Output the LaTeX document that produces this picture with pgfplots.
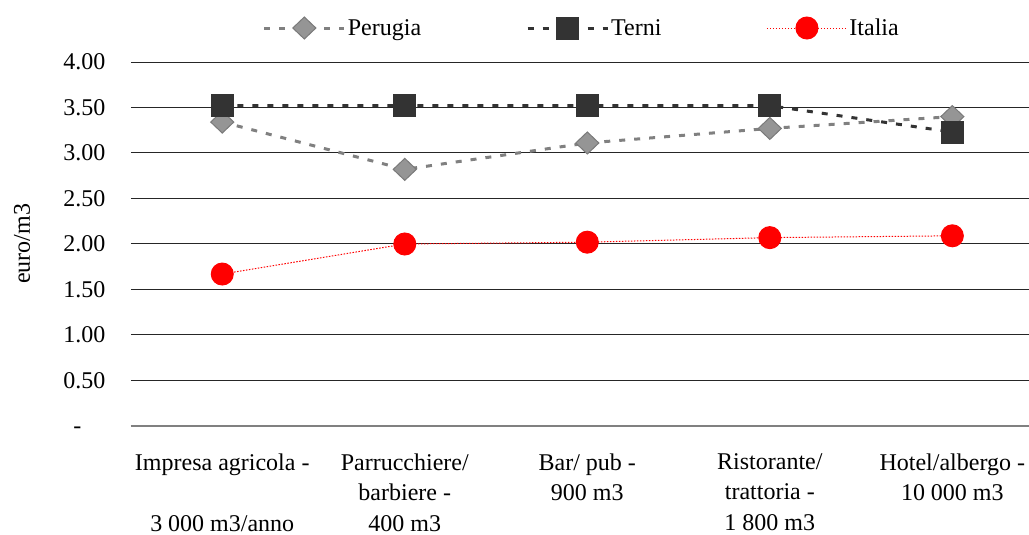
\documentclass[border=0pt]{standalone}
\usepackage{fontspec}
\setmainfont{Liberation Serif}
\newfontfamily\tnr{Liberation Serif}
\usepackage{pgfplots}
\pgfplotsset{compat=1.18}
\definecolor{pgray}{HTML}{959595}
\definecolor{pline}{HTML}{808080}
\definecolor{pedge}{HTML}{7A7A7A}
\definecolor{tdark}{HTML}{333333}
\begin{document}
\begin{tikzpicture}
\newcommand{\fs}{\tnr\fontsize{24}{30.5}\selectfont}
\begin{axis}[
  scale only axis,
  width=898pt, height=364pt,
  xmin=-0.5, xmax=4.42,
  ymin=0, ymax=4,
  ytick={0,0.5,1,1.5,2,2.5,3,3.5,4},
  yticklabels={-\phantom{00},0.50,1.00,1.50,2.00,2.50,3.00,3.50,4.00},
  ymajorgrids,
  grid style={black!85, line width=1pt},
  ytick style={draw=none},
  yticklabel style={font=\fs, xshift=-22pt},
  xtick={0,1,2,3,4},
  xticklabels={{Impresa agricola -\\\strut\\3 000 m3/anno},{Parrucchiere/\\barbiere -\\400 m3},{Bar/ pub -\\900 m3},{Ristorante/\\trattoria -\\1 800 m3},{Hotel/albergo -\\10 000 m3}},
  xticklabel style={font=\fs, align=center, yshift=-24pt},
  xtick style={draw=none},
  extra x ticks={-0.5,0.5,1.5,2.5,3.5},
  extra x tick labels={},
  extra x tick style={major tick length=7pt, tick align=outside, tick style={draw=pline, line width=1pt}},
  axis x line*=bottom,
  axis y line*=left,
  y axis line style={draw=none},
  x axis line style={draw=pline, line width=1.8pt},
  ylabel={euro/m3},
  every axis y label/.style={at={(axis description cs:-0.1214,0.5)}, rotate=90, anchor=center, font=\fs},
  legend columns=3,
  legend style={draw=none, fill=none, font=\fs, at={(axis description cs:0.502,1.0934)}, anchor=center,
    /tikz/every even column/.append style={column sep=103pt}},
  legend image code/.code={\draw[mark repeat=2,mark phase=2] plot coordinates {(0pt,0pt)(40pt,0pt)(80pt,0pt)};},
]
\addplot[pline, line width=3pt, dash pattern=on 6pt off 9pt, mark=diamond*, mark size=11pt,
  mark options={solid, fill=pgray, draw=pedge, line width=1pt, xscale=1.4}]
  coordinates {(0,3.34) (1,2.82) (2,3.11) (3,3.27) (4,3.40)};
\addlegendentry{Perugia}
\addplot[tdark, line width=3pt, dash pattern=on 6pt off 9pt, mark=square*, mark size=10pt,
  mark options={solid, fill=tdark, draw=tdark}]
  coordinates {(0,3.52) (1,3.52) (2,3.52) (3,3.52) (4,3.23)};
\addlegendentry{Terni}
\addplot[red, line width=1pt, dash pattern=on 1.5pt off 1.5pt, mark=*, mark size=11pt,
  mark options={solid, fill=red, draw=red}]
  coordinates {(0,1.67) (1,2.00) (2,2.02) (3,2.07) (4,2.09)};
\addlegendentry{Italia}
\end{axis}
\pgfresetboundingbox
\path[use as bounding box] (-131pt,-109pt) rectangle (898pt,426pt);
\end{tikzpicture}
\end{document}
